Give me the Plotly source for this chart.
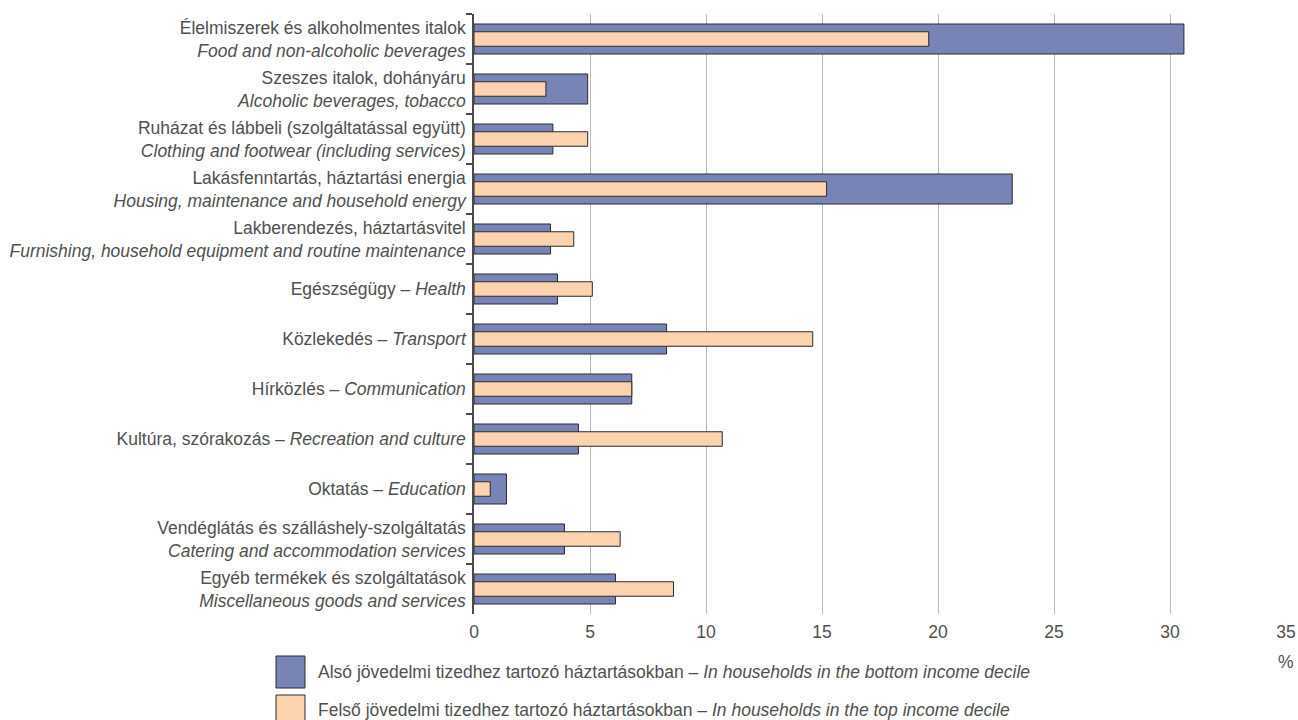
import plotly.graph_objects as go

categories_hu = [
    "Élelmiszerek és alkoholmentes italok",
    "Szeszes italok, dohányáru",
    "Ruházat és lábbeli (szolgáltatással együtt)",
    "Lakásfenntartás, háztartási energia",
    "Lakberendezés, háztartásvitel",
    "Egészségügy",
    "Közlekedés",
    "Hírközlés",
    "Kultúra, szórakozás",
    "Oktatás",
    "Vendéglátás és szálláshely-szolgáltatás",
    "Egyéb termékek és szolgáltatások",
]
categories_en = [
    "Food and non-alcoholic beverages",
    "Alcoholic beverages, tobacco",
    "Clothing and footwear (including services)",
    "Housing, maintenance and household energy",
    "Furnishing, household equipment and routine maintenance",
    "Health",
    "Transport",
    "Communication",
    "Recreation and culture",
    "Education",
    "Catering and accommodation services",
    "Miscellaneous goods and services",
]
two_line = [True, True, True, True, True, False, False, False, False, False, True, True]

bottom_decile = [30.6, 4.9, 3.4, 23.2, 3.3, 3.6, 8.3, 6.8, 4.5, 1.4, 3.9, 6.1]
top_decile = [19.6, 3.1, 4.9, 15.2, 4.3, 5.1, 14.6, 6.8, 10.7, 0.7, 6.3, 8.6]

x_ticks = [0, 5, 10, 15, 20, 25, 30, 35]

legend_bottom = "Alsó jövedelmi tizedhez tartozó háztartásokban – <i>In households in the bottom income decile</i>"
legend_top = "Felső jövedelmi tizedhez tartozó háztartásokban – <i>In households in the top income decile</i>"

labels = []
for hu, en, tl in zip(categories_hu, categories_en, two_line):
    if tl:
        labels.append(f"{hu}<br><i>{en}</i>")
    else:
        labels.append(f"{hu} – <i>{en}</i>")

BLUE = "#7884b5"
ORANGE = "#fcd2af"
TEXT = "#505050"
FONT = "Liberation Sans, Arial, sans-serif"
FS = 17.5

W, H = 1298, 720
ML, MR, MT, MB = 474, 12, 14, 106
PW, PH = W - ML - MR, H - MT - MB


def px(x):
    return (x - ML) / PW


def py(y):
    return (H - MB - y) / PH


fig = go.Figure()
fig.add_trace(go.Bar(
    y=labels, x=bottom_decile, orientation="h", width=0.6,
    marker=dict(color=BLUE, line=dict(color="#2b2b2b", width=1)),
    name="bottom", showlegend=False, hoverinfo="x",
))
fig.add_trace(go.Bar(
    y=labels, x=top_decile, orientation="h", width=0.29,
    marker=dict(color=ORANGE, line=dict(color="#2b2b2b", width=1)),
    name="top", showlegend=False, hoverinfo="x",
))

fig.update_layout(
    barmode="overlay",
    width=W, height=H,
    margin=dict(l=ML, r=MR, t=MT, b=MB, autoexpand=False),
    plot_bgcolor="white", paper_bgcolor="white",
    font=dict(family=FONT, color=TEXT, size=FS),
    xaxis=dict(
        range=[0, 35], tickvals=x_ticks, showgrid=True, gridcolor="#b8b8b8",
        gridwidth=1, zeroline=False, showline=False, ticks="",
        tickfont=dict(size=FS, color=TEXT), ticklabelstandoff=5,
        automargin=False,
    ),
    yaxis=dict(
        type="category", range=[11.5, -0.5], showline=True, linecolor="#4a4a4a",
        linewidth=1.5, ticks="outside", tickson="boundaries", ticklen=6,
        tickcolor="#4a4a4a", tickwidth=1.5, showgrid=False,
        tickfont=dict(size=FS, color=TEXT), ticklabelstandoff=3,
        automargin=False,
    ),
    shapes=[
        dict(type="rect", xref="paper", yref="paper", x0=px(276), x1=px(305),
             y0=py(688), y1=py(656),
             fillcolor=BLUE, line=dict(color="#2b2b2b", width=1)),
        dict(type="rect", xref="paper", yref="paper", x0=px(276), x1=px(305),
             y0=py(727), y1=py(695),
             fillcolor=ORANGE, line=dict(color="#2b2b2b", width=1)),
    ],
    annotations=[
        dict(text=legend_bottom, xref="paper", yref="paper", x=px(316),
             y=py(672), xanchor="left", yanchor="middle",
             showarrow=False, font=dict(size=FS, color=TEXT)),
        dict(text=legend_top, xref="paper", yref="paper", x=px(316),
             y=py(710), xanchor="left", yanchor="middle",
             showarrow=False, font=dict(size=FS, color=TEXT)),
        dict(text="%", xref="paper", yref="paper", x=px(1286), y=py(662),
             xanchor="center", yanchor="middle", showarrow=False,
             font=dict(size=FS, color=TEXT)),
    ],
)

fig.write_html(
    "out.html",
    config={"displayModeBar": False},
    post_script="document.body.style.margin='0';document.body.style.overflow='hidden';",
)
